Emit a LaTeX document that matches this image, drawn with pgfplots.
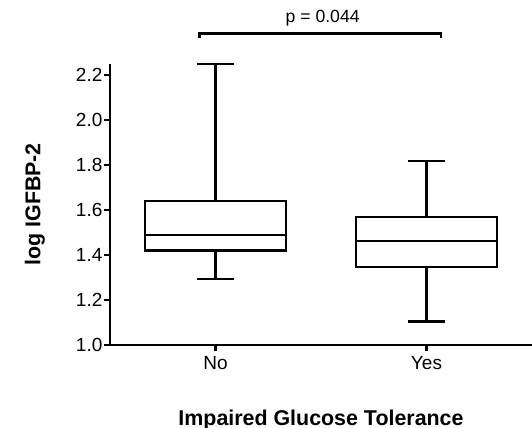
\documentclass[border=0pt]{standalone}
\usepackage{fontspec}
\setmainfont{Liberation Sans}
\usepackage{pgfplots}
\pgfplotsset{compat=1.18}
\usepgfplotslibrary{statistics}

\begin{document}
\begin{tikzpicture}
\begin{axis}[
  name=ax,
  scale only axis,
  width=211pt, height=140.6pt,
  xmin=0.5, xmax=2.5,
  ymin=1.0, ymax=2.25,
  axis x line=bottom, axis y line=left,
  axis line style={-, line width=1.3pt, black},
  tick style={line width=1.2pt, black},
  tick align=outside,
  major tick length=3.2pt,
  xtick={1,2}, xticklabels={No,Yes},
  ytick={1.0,1.2,...,2.2},
  /pgf/number format/assume math mode=true,
  yticklabel={\pgfmathprintnumber[fixed,fixed zerofill,precision=1]{\tick}},
  ticklabel style={font=\fontsize{9.5}{10}\selectfont},
  yticklabel style={inner sep=0pt, xshift=-0.4pt},
  xticklabel style={inner sep=0pt, yshift=-2.2pt},
  xlabel={Impaired Glucose Tolerance},
  ylabel={log IGFBP-2},
  label style={font=\fontsize{10.7}{12}\selectfont\bfseries},
  xlabel style={at={(axis description cs:0.5,-0.288)}, anchor=base},
  ylabel style={at={(axis description cs:-0.1777,0.5)}, anchor=center},
  clip=false,
  boxplot/draw direction=y,
  boxplot/box extend=0.667,
  boxplot/whisker extend=0.176,
]
\addplot[black, line width=1.25pt, fill=white, boxplot prepared={
  draw position=1,
  lower whisker=1.293, lower quartile=1.421, median=1.490,
  upper quartile=1.639, upper whisker=2.250}]
  coordinates {};
\addplot[black, line width=1.25pt, fill=white, boxplot prepared={
  draw position=2,
  lower whisker=1.105, lower quartile=1.346, median=1.463,
  upper quartile=1.568, upper whisker=1.817}]
  coordinates {};
\draw[line width=1.2pt] (axis cs:0.925,2.363) -- (axis cs:0.925,2.385)
  -- (axis cs:2.069,2.385) -- (axis cs:2.069,2.363);
\node[anchor=base, inner sep=0pt, font=\fontsize{8.8}{10}\selectfont]
  at (axis cs:1.508,2.432) {p = 0.044};
\end{axis}
\pgfresetboundingbox
\path[use as bounding box] ([shift={(-55pt,-41.5pt)}]ax.south west)
  rectangle ([shift={(211pt,172.5pt)}]ax.south west);
\end{tikzpicture}
\end{document}
